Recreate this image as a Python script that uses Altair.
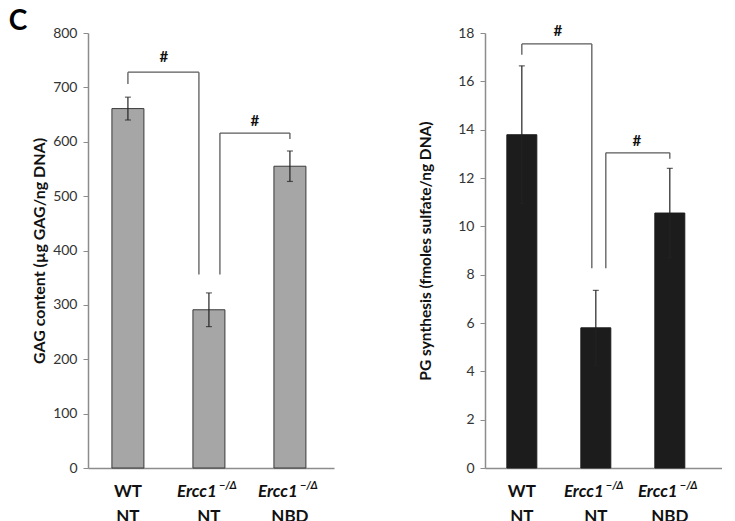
import altair as alt
import pandas as pd

# ---------------- data ----------------
groups = ["WT NT", "Ercc1 NT", "Ercc1 NBD"]
label_line1 = ["WT", "Ercc1", "Ercc1"]
label_line2 = ["NT", "NT", "NBD"]
label_italic = [False, True, True]

gag_mean = [661, 291, 555]
gag_err = [21, 31, 28]
pg_mean = [13.79, 5.8, 10.55]
pg_err = [2.85, 1.55, 1.85]

# significance brackets: from group, to group, top, left-end, right-end
gag_br_from = ["WT NT", "Ercc1 NT"]
gag_br_to = ["Ercc1 NT", "Ercc1 NBD"]
gag_br_top = [728, 616]
gag_br_left = [706, 356]
gag_br_right = [356, 605]
gag_hash_y = [755, 638]

pg_br_from = ["WT NT", "Ercc1 NT"]
pg_br_to = ["Ercc1 NT", "Ercc1 NBD"]
pg_br_top = [17.55, 13.04]
pg_br_left = [17.1, 8.27]
pg_br_right = [8.27, 12.8]
pg_hash_y = [18.1, 13.55]

FONT = "Lato"
H = 435


def panel(mean, err, ymax, ystep, ytitle, fill, stroke, width, step_pad, br, hash_dx, br_off,
          title_size, title_pad, with_c=False):
    df = pd.DataFrame({
        "g": groups, "m": mean, "lo": [m - e for m, e in zip(mean, err)],
        "hi": [m + e for m, e in zip(mean, err)],
        "l1": label_line1, "l2": label_line2, "it": label_italic,
    })
    pin, pout, align = step_pad
    xs = alt.Scale(domain=groups, paddingInner=pin, paddingOuter=pout, align=align)
    ys = alt.Scale(domain=[0, ymax], nice=False)
    x = alt.X("g:N", scale=xs, sort=groups,
              axis=alt.Axis(title=None, labels=False, ticks=False, domainColor="#8c8c8c",
                            domainWidth=1.5))
    y = alt.Y("m:Q", scale=ys, title=ytitle,
              axis=alt.Axis(values=list(range(0, int(ymax) + 1, ystep)), grid=False,
                            domainColor="#8c8c8c", domainWidth=1.5, tickColor="#8c8c8c",
                            tickSize=5, labelFont=FONT, labelFontSize=14, labelColor="#333333",
                            labelPadding=6, titleFont=FONT, titleFontSize=title_size,
                            titleFontWeight="bold", titleColor="#111111",
                            titlePadding=title_pad))
    base = alt.Chart(df)
    bars = base.mark_bar(fill=fill, stroke=stroke, strokeWidth=1).encode(x=x, y=y)
    ebar = base.mark_rule(color="#222222", strokeWidth=1.2).encode(
        x="g:N", y=alt.Y("lo:Q", scale=ys), y2="hi:Q")
    cap_hi = base.mark_tick(color="#222222", orient="horizontal", size=6, thickness=1.2).encode(
        x="g:N", y=alt.Y("hi:Q", scale=ys))
    cap_lo = base.mark_tick(color="#222222", orient="horizontal", size=6, thickness=1.2).encode(
        x="g:N", y=alt.Y("lo:Q", scale=ys))

    bfrom, bto, btop, bleft, bright, hy = br
    layers = [bars, ebar, cap_hi, cap_lo]
    bc = "#5a5a5a"
    for i in range(len(bfrom)):
        d = pd.DataFrame({"a": [bfrom[i]], "b": [bto[i]], "top": [btop[i]],
                          "l": [bleft[i]], "r": [bright[i]], "hy": [hy[i]]})
        c = alt.Chart(d)
        oL, oR = br_off[i]
        layers.append(c.mark_rule(color=bc, strokeWidth=1.3, xOffset=oL, x2Offset=oR).encode(
            x="a:N", x2="b:N", y=alt.Y("top:Q", scale=ys)))
        layers.append(c.mark_rule(color=bc, strokeWidth=1.3, xOffset=oL).encode(
            x="a:N", y=alt.Y("l:Q", scale=ys), y2="top:Q"))
        layers.append(c.mark_rule(color=bc, strokeWidth=1.3, xOffset=oR).encode(
            x="b:N", y=alt.Y("r:Q", scale=ys), y2="top:Q"))
        layers.append(c.mark_text(text="#", font=FONT, fontSize=15, fontWeight="bold",
                                  color="#111111", dx=hash_dx[i]).encode(
            x="a:N", y=alt.Y("hy:Q", scale=ys)))

    # category labels drawn as text below axis
    up = base.transform_filter("!datum.it").mark_text(
        font=FONT, fontSize=17, fontWeight="bold", color="#111111").encode(
        x="g:N", y=alt.value(H + 24), text="l1:N")
    itl = base.transform_filter("datum.it").mark_text(
        font=FONT, fontSize=17, fontWeight="bold", fontStyle="italic", color="#111111",
        dx=-12).encode(x="g:N", y=alt.value(H + 24), text="l1:N")
    sup = base.transform_filter("datum.it").mark_text(
        font=FONT, fontSize=11, fontWeight="bold", fontStyle="italic", color="#111111",
        align="left", dx=10, dy=-6).encode(
        x="g:N", y=alt.value(H + 24), text=alt.value("\u2212/\u0394"))
    l2 = base.mark_text(font=FONT, fontSize=17, fontWeight="bold", color="#111111").encode(
        x="g:N", y=alt.value(H + 49), text="l2:N")
    layers += [up, itl, sup, l2]
    if with_c:
        layers.append(base.mark_text(text="C", font=FONT, fontSize=28, fontWeight="bold",
                                     color="#000000", baseline="top").encode(
            x=alt.value(-70), y=alt.value(-25)).transform_filter("datum.g == 'WT NT'"))
    return alt.layer(*layers).properties(width=width, height=H)


left = panel(gag_mean, gag_err, 800, 100, "GAG content (\u00b5g GAG/ng DNA)", "#a6a6a6",
             "#3a3a3a", 246, (0.605, 0.321, 0.46),
             (gag_br_from, gag_br_to, gag_br_top, gag_br_left, gag_br_right, gag_hash_y),
             [36, 46], [(0, -10), (11, 0)], 16, 5, with_c=True)
right = panel(pg_mean, pg_err, 18, 2, "PG synthesis (fmoles sulfate/ng DNA)", "#1c1c1c",
              "#1c1c1c", 237, (0.595, 0.399, 0.37),
              (pg_br_from, pg_br_to, pg_br_top, pg_br_left, pg_br_right, pg_hash_y),
              [36, 41], [(0, -4), (10, 0)], 15.5, 24)

chart = alt.hconcat(left, right, spacing=84).properties(padding=0).configure_view(stroke=None)
chart.save("out.html", embed_options={"renderer": "svg", "actions": False})
